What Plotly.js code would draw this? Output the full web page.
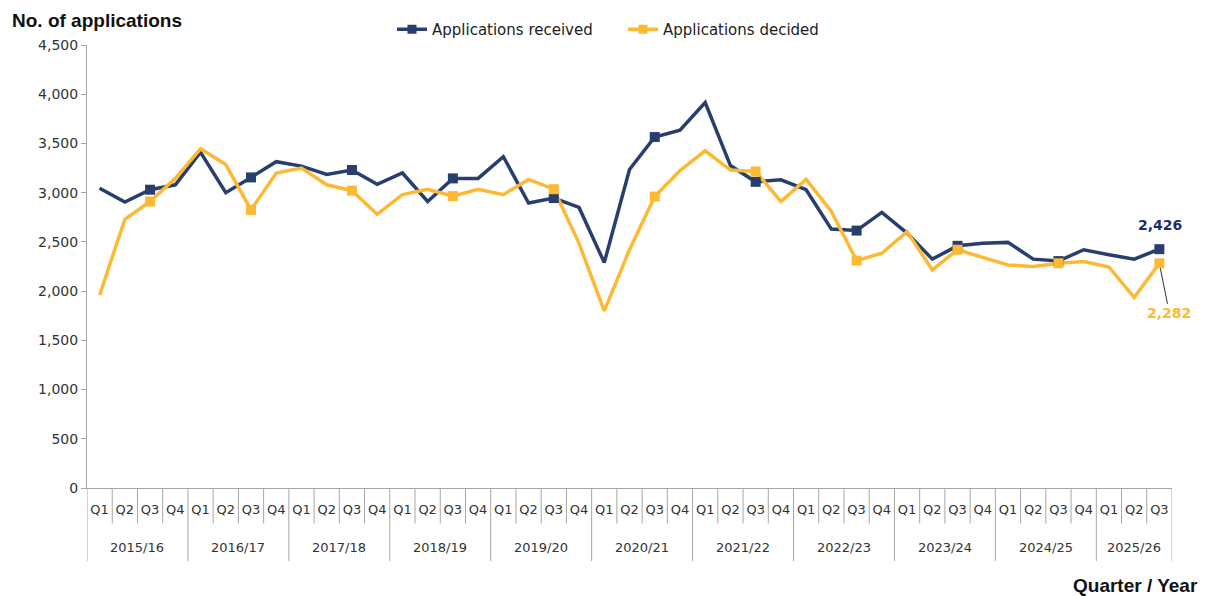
<!DOCTYPE html>
<html>
<head>
<meta charset="utf-8">
<script src="https://cdn.plot.ly/plotly-3.0.1.min.js"></script>
<style>html,body{margin:0;padding:0;background:#fff;}#chart{width:1211px;height:596px;}</style>
</head>
<body>
<div id="chart"></div>
<script>
// ---- data ----
const fiscalYears = ['2015/16','2016/17','2017/18','2018/19','2019/20','2020/21','2021/22','2022/23','2023/24','2024/25','2025/26'];
const quarters = ['Q1','Q2','Q3','Q4'];
const received = [3045,2905,3030,3080, 3410,3000,3155,3315, 3270,3185,3230,3085, 3200,2910,3145,3145,
                  3365,2895,2945,2850, 2290,3235,3565,3635, 3915,3275,3110,3130, 3030,2630,2615,2800,
                  2590,2325,2460,2485, 2495,2325,2305,2420, 2370,2325,2426];
const decided = [1960,2730,2910,3145, 3445,3285,2825,3200, 3250,3080,3020,2780, 2980,3035,2965,3035,
                 2980,3135,3035,2485, 1800,2420,2960,3225, 3425,3230,3215,2910, 3135,2810,2310,2385,
                 2605,2215,2420,2345, 2265,2250,2283,2300, 2245,1935,2282];
const markerQuarter = 'Q3';

// ---- build category positions ----
const n = received.length;
const xIdx = [], xYear = [], xQ = [];
for (let i = 0; i < n; i++) {
  xIdx.push(i);
  xYear.push(fiscalYears[Math.floor(i / 4)]);
  xQ.push(quarters[i % 4]);
}
const mIdx = xIdx.filter(i => xQ[i] === markerQuarter);

const navy = '#283F6E';
const gold = '#FDB933';
const font = 'DejaVu Sans, Verdana, sans-serif';
const boldFont = 'Liberation Sans, Arial, sans-serif';

function lineTrace(vals, color, name) {
  return {x: xIdx, y: vals, type: 'scatter', mode: 'lines', name: name,
          line: {color: color, width: 3.5}, showlegend: false, legendgroup: name,
          text: xIdx.map(i => xYear[i] + ' ' + xQ[i]), hoverinfo: 'text+y'};
}
function markTrace(vals, color, name) {
  return {x: mIdx, y: mIdx.map(i => vals[i]),
          type: 'scatter', mode: 'markers', name: name, legendgroup: name,
          marker: {symbol: 'square', size: 10, color: color}, showlegend: false, hoverinfo: 'y'};
}
function legendTrace(color, name) {
  return {x: [null], y: [null], type: 'scatter', mode: 'lines+markers', name: name,
          legendgroup: name, line: {color: color, width: 3.5},
          marker: {symbol: 'square', size: 9, color: color}, showlegend: true};
}

const data = [
  lineTrace(received, navy, 'Applications received'),
  lineTrace(decided, gold, 'Applications decided'),
  markTrace(received, navy, 'Applications received'),
  markTrace(decided, gold, 'Applications decided'),
  legendTrace(navy, 'Applications received'),
  legendTrace(gold, 'Applications decided')
];

// boundary lines below the axis
const shapes = [];
for (let b = 0; b <= n; b++) {
  const isYear = (b % 4 === 0) || b === n;
  shapes.push({type: 'line', xref: 'x', yref: 'paper', x0: b - 0.5, x1: b - 0.5,
               y0: 0, y1: isYear ? -0.165 : -0.08, line: {color: '#A6A6A6', width: 1}});
}

const annotations = [
  {xref: 'paper', yref: 'paper', x: -0.071, y: 1.056, xanchor: 'left', yanchor: 'middle',
   text: '<b>No. of applications</b>', showarrow: false, font: {family: boldFont, size: 19, color: '#111'}},
  {xref: 'paper', yref: 'paper', x: 1.026, y: -0.219, xanchor: 'right', yanchor: 'middle',
   text: '<b>Quarter / Year</b>', showarrow: false, font: {family: boldFont, size: 19, color: '#111'}}
];
// fiscal-year labels centred under their quarters
fiscalYears.forEach((fy, k) => {
  const idx = xIdx.filter(i => xYear[i] === fy);
  const centre = (idx[0] + idx[idx.length - 1]) / 2;
  annotations.push({xref: 'x', yref: 'paper', x: centre, y: -0.135, yanchor: 'middle',
    text: fy, showarrow: false, font: {family: font, size: 13, color: '#333'}});
});
const last = n - 1;
annotations.push(
  {xref: 'x', yref: 'y', x: last, y: received[last], text: '<b>' + received[last].toLocaleString('en-US') + '</b>',
   showarrow: false, xshift: 1, yshift: 24, font: {family: font, size: 14, color: '#1F2A6E'}},
  {xref: 'x', yref: 'y', x: last, y: decided[last], text: '<b>' + decided[last].toLocaleString('en-US') + '</b>',
   showarrow: true, arrowhead: 0, arrowwidth: 1, arrowcolor: '#333', ax: 10, ay: 50, standoff: 5,
   font: {family: font, size: 14, color: gold}}
);

const layout = {
  width: 1211, height: 596,
  margin: {l: 87, r: 39, t: 45, b: 108},
  paper_bgcolor: '#fff', plot_bgcolor: '#fff',
  font: {family: font, size: 14, color: '#333'},
  showlegend: true,
  legend: {orientation: 'h', x: 0.494, xanchor: 'center', y: 1.035, yanchor: 'middle',
           entrywidth: 186, entrywidthmode: 'pixels',
           font: {family: font, size: 15, color: '#222'}, tracegroupgap: 0},
  xaxis: {type: 'linear', range: [-0.5, n - 0.5], tickmode: 'array', tickvals: xIdx, ticktext: xQ,
          showline: true, linecolor: '#A6A6A6', linewidth: 1, ticks: '', ticklabelstandoff: 9,
          showgrid: false, zeroline: false, tickfont: {family: font, size: 13, color: '#333'}},
  yaxis: {range: [0, 4500], dtick: 500, tickformat: ',', showline: true, linecolor: '#A6A6A6',
          ticks: 'outside', ticklen: 5, tickcolor: '#A6A6A6', showgrid: false, zeroline: false,
          tickfont: {family: font, size: 14, color: '#333'}},
  shapes: shapes,
  annotations: annotations
};

Plotly.newPlot('chart', data, layout, {displayModeBar: false, staticPlot: true});
</script>
</body>
</html>
